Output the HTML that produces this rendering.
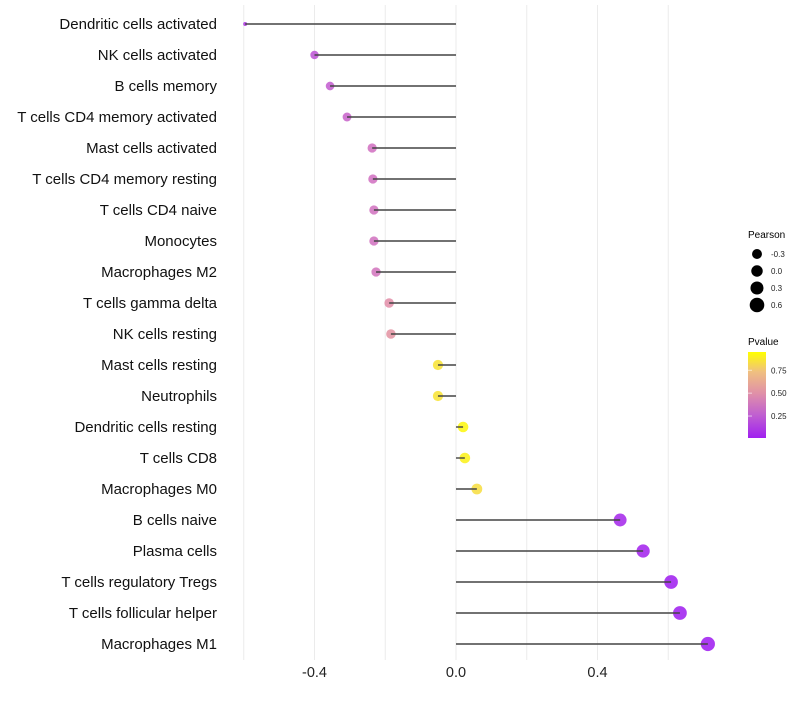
<!DOCTYPE html>
<html><head><meta charset="utf-8"><style>
body{margin:0;background:#fff;font-family:"Liberation Sans",sans-serif}
svg text{font-family:"Liberation Sans",sans-serif}
</style></head><body>
<svg id="chart" width="800" height="700" xmlns="http://www.w3.org/2000/svg">
<defs><linearGradient id="pg" x1="0" y1="1" x2="0" y2="0">
<stop offset="0" stop-color="#a020f0"/><stop offset="0.27" stop-color="#c060d0"/><stop offset="0.52" stop-color="#e090a8"/><stop offset="0.77" stop-color="#f0c080"/><stop offset="1" stop-color="#ffff00"/></linearGradient></defs>
<g id="grid"></g>
<g id="marks"></g>
<g id="ylabels"></g>
<g id="xlabels"></g>
<g id="sizeleg">
<text x="748" y="238" font-size="10" fill="#000">Pearson</text>
</g>
<g id="colleg">
<text x="748" y="345" font-size="10" fill="#000">Pvalue</text>
<rect x="748" y="352" width="18" height="86" fill="url(#pg)"/>
</g>
</svg>
<script>
const categories=["Dendritic cells activated","NK cells activated","B cells memory","T cells CD4 memory activated","Mast cells activated","T cells CD4 memory resting","T cells CD4 naive","Monocytes","Macrophages M2","T cells gamma delta","NK cells resting","Mast cells resting","Neutrophils","Dendritic cells resting","T cells CD8","Macrophages M0","B cells naive","Plasma cells","T cells regulatory  Tregs ","T cells follicular helper","Macrophages M1"];
const pearson=[-0.596,-0.40,-0.356,-0.308,-0.237,-0.235,-0.232,-0.232,-0.226,-0.189,-0.184,-0.051,-0.051,0.02,0.025,0.059,0.464,0.529,0.608,0.633,0.712];
const pvalues=[0.12,0.25,0.3,0.33,0.4,0.4,0.41,0.41,0.42,0.55,0.58,0.9,0.9,0.97,0.95,0.88,0.05,0.03,0.01,0.01,0.0];
const xTicks=[-0.4,0.0,0.4];
const gridTicks=[-0.6,-0.4,-0.2,0,0.2,0.4,0.6];
const sizeLegendVals=[-0.3,0.0,0.3,0.6];
const colorLegendVals=[0.25,0.50,0.75];
const NS="http://www.w3.org/2000/svg";
const x=v=>456+v*353.75;
const y=i=>24+i*31;
const r=v=>v<-0.5?2:4.2+(v+0.4)*2.6;
const stops=[[0,[160,32,240]],[0.27,[192,90,212]],[0.52,[224,136,176]],[0.77,[240,192,128]],[1,[255,255,0]]];
const col=p=>{for(let k=1;k<stops.length;k++){if(p<=stops[k][0]||k==stops.length-1){const[a0,a]=stops[k-1],[b0,b]=stops[k];const t=Math.min(1,Math.max(0,(p-a0)/(b0-a0)));return `rgb(${a.map((c,j)=>Math.round(c+(b[j]-c)*t)).join(",")})`;}}};
const cy=p=>438-(p-0.01)/0.94*86;
function mk(t,at,par){const e=document.createElementNS(NS,t);for(const k in at)e.setAttribute(k,at[k]);document.getElementById(par).appendChild(e);return e;}
gridTicks.forEach(t=>{
 const l=mk("line",{x1:x(t),x2:x(t),y1:5,y2:660,stroke:"#ebebeb","stroke-width":1},"grid");
 
 
});
xTicks.forEach(t=>{
 const e=mk("text",{x:x(t),y:677,"font-size":14.5,fill:"#222","text-anchor":"middle"},"xlabels");
 e.textContent=t.toFixed(1);
 
 
});
categories.forEach((c,i)=>{
 const t=mk("text",{x:217,y:y(i)+5,"font-size":15,fill:"#111","text-anchor":"end"},"ylabels");
 t.textContent=c;
 
 
 const d=mk("circle",{cx:x(pearson[i]),cy:y(i),r:r(pearson[i]),fill:col(pvalues[i]),"fill-opacity":0.88},"marks");
 
 
 const l=mk("line",{x1:x(0),x2:x(pearson[i]),y1:y(i),y2:y(i),stroke:"#444","stroke-width":1.4},"marks");
 
 
});
sizeLegendVals.forEach((v,i)=>{
 const yy=254+i*17;
 const c=mk("circle",{cx:757,cy:yy,r:r(v)+0.5,fill:"#000"},"sizeleg");
 
 
 const t=mk("text",{x:771,y:yy+3,"font-size":8,fill:"#222"},"sizeleg");
 t.textContent=v.toFixed(1);
 
 
});
colorLegendVals.forEach(v=>{
 const yy=cy(v);
 const l=mk("line",{x1:748,x2:752,y1:yy,y2:yy,stroke:"#fff","stroke-opacity":0.6},"colleg");
 
 
 const t=mk("text",{x:771,y:yy+3,"font-size":8,fill:"#222"},"colleg");
 t.textContent=v.toFixed(2);
 
 
});
</script>
</body></html>
